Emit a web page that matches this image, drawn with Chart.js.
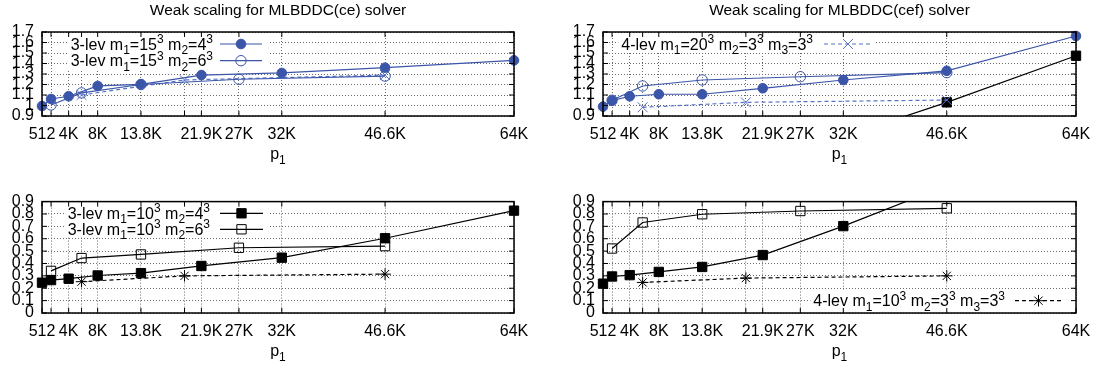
<!DOCTYPE html>
<html>
<head>
<meta charset="utf-8">
<script src="https://cdn.jsdelivr.net/npm/chart.js@4.4.0/dist/chart.umd.min.js"></script>
<style>
body { margin: 0; background: #fff; }
#wrap { position: relative; width: 1096px; height: 368px; }
canvas { position: absolute; }
</style>
</head>
<body>
<div id="wrap">
<canvas id="ceTop" width="548" height="184" style="left:0;top:0"></canvas>
<canvas id="cefTop" width="548" height="184" style="left:548px;top:0"></canvas>
<canvas id="ceBot" width="548" height="184" style="left:0;top:184px"></canvas>
<canvas id="cefBot" width="548" height="184" style="left:548px;top:184px"></canvas>
</div>
<script>
// x axis: number of subdomains p1
var xTicks = [512, 1728, 4096, 5832, 8000, 13824, 19683, 21952, 27000, 32768, 46656, 64000];
var xTickLabels = ['512', '', '4K', '', '8K', '13.8K', '', '21.9K', '27K', '32K', '46.6K', '64K'];

var yTicksTop = [0.9, 1.0, 1.1, 1.2, 1.3, 1.4, 1.5, 1.6, 1.7];
var yLabelsTop = ['0.9', '1', '1.1', '1.2', '1.3', '1.4', '1.5', '1.6', '1.7'];
var yTicksBot = [0, 0.1, 0.2, 0.3, 0.4, 0.5, 0.6, 0.7, 0.8, 0.9];
var yLabelsBot = ['0', '0.1', '0.2', '0.3', '0.4', '0.5', '0.6', '0.7', '0.8', '0.9'];

// p1 values per configuration
var p1_m4 = [512, 1728, 4096, 8000, 13824, 21952, 32768, 46656, 64000];
var p1_m6 = [1728, 5832, 13824, 27000, 46656];
var p1_lev4 = [5832, 19683, 46656];

// MLBDDC(ce)
var ce_15_m4 = [0.995, 1.062, 1.088, 1.186, 1.202, 1.29, 1.31, 1.36, 1.43];
var ce_15_m6 = [1.005, 1.12, 1.20, 1.25, 1.28];
var ce_20_lev4 = [1.10, 1.243, 1.29];
var ce_10_m4 = [0.245, 0.266, 0.277, 0.303, 0.322, 0.38, 0.447, 0.604, 0.827];
var ce_10_m6 = [0.34, 0.444, 0.473, 0.527, 0.54];
var ce_10_lev4 = [0.253, 0.30, 0.314];

// MLBDDC(cef)
var cef_20_m4 = [0.989, 1.046, 1.088, 1.107, 1.107, 1.164, 1.243, 1.33, 1.662];
var cef_20_m6 = [1.05, 1.186, 1.243, 1.274, 1.313];
var cef_20_lev4 = [0.983, 1.03, 1.052];
var cef_10_m4 = [0.237, 0.295, 0.306, 0.332, 0.372, 0.468, 0.702, 1.03, 1.474];
var cef_10_m6 = [0.521, 0.731, 0.798, 0.824, 0.846];
var cef_10_lev4 = [0.247, 0.282, 0.30];

var FONT = '"Liberation Sans", Arial, Helvetica, sans-serif';
var LW = 1.2;
var blue = '#3b55a9', blueLight = '#5873c6';

var S_fc = { color: blue, pointStyle: 'circle', radius: 4.8, fill: true };
var S_oc = { color: blue, pointStyle: 'circle', radius: 5.2, fill: false };
var S_x = { color: blueLight, pointStyle: 'crossRot', radius: 7, fill: false, dash: [4, 3] };
var S_fs = { color: '#000', pointStyle: 'rect', radius: 6.6, fill: true };
var S_os = { color: '#000', pointStyle: 'rect', radius: 6.6, fill: false };
var S_st = { color: '#000', pointStyle: 'star', radius: 5.8, fill: false, dash: [4, 3] };

var CLIP_IN = { left: 8, right: 8, top: 8, bottom: 8 };
var CLIP_EDGE = { left: 8, right: 8, top: 0, bottom: 0 };

function pts(xs, ys) {
  return xs.map(function (x, i) { return { x: x, y: ys[i] }; });
}

function ds(xs, ys, st, clip) {
  var bg = st.fill ? st.color : 'rgba(0,0,0,0)';
  return {
    data: pts(xs, ys),
    borderColor: st.color,
    backgroundColor: bg,
    borderWidth: LW,
    borderDash: st.dash || [],
    pointStyle: st.pointStyle,
    pointRadius: st.radius,
    pointHoverRadius: st.radius,
    pointBorderWidth: 1,
    pointBackgroundColor: bg,
    pointBorderColor: st.color,
    fill: false,
    tension: 0,
    clip: clip || CLIP_IN
  };
}

function setFont(ctx, kind) {
  ctx.font = (kind ? '12px ' : '16px ') + FONT;
}

function richWidth(ctx, segs) {
  var w = 0;
  segs.forEach(function (s) {
    var kind = typeof s === 'string' ? null : (s.sub !== undefined ? 'sub' : 'sup');
    setFont(ctx, kind);
    w += ctx.measureText(typeof s === 'string' ? s : (s.sub || s.sup)).width;
  });
  return w;
}

function drawRich(ctx, segs, x, base) {
  ctx.textAlign = 'left';
  ctx.textBaseline = 'alphabetic';
  segs.forEach(function (s) {
    var txt = s, dy = 0, kind = null;
    if (typeof s !== 'string') {
      if (s.sub !== undefined) { txt = s.sub; dy = 4.5; kind = 'sub'; }
      else { txt = s.sup; dy = -6.5; kind = 'sup'; }
    }
    setFont(ctx, kind);
    ctx.fillText(txt, x, base + dy);
    x += ctx.measureText(txt).width;
  });
}

function drawMarker(ctx, st, x, y) {
  var r = st.radius, d = r * Math.SQRT1_2;
  ctx.strokeStyle = st.color;
  ctx.fillStyle = st.color;
  ctx.lineWidth = 1;
  ctx.setLineDash([]);
  ctx.beginPath();
  if (st.pointStyle === 'circle') {
    ctx.arc(x, y, r, 0, Math.PI * 2);
    if (st.fill) ctx.fill();
  } else if (st.pointStyle === 'rect') {
    ctx.rect(x - d, y - d, 2 * d, 2 * d);
    if (st.fill) ctx.fill();
  } else {
    ctx.moveTo(x - d, y - d); ctx.lineTo(x + d, y + d);
    ctx.moveTo(x - d, y + d); ctx.lineTo(x + d, y - d);
    if (st.pointStyle === 'star') {
      ctx.moveTo(x - r, y); ctx.lineTo(x + r, y);
      ctx.moveTo(x, y - r); ctx.lineTo(x, y + r);
    }
  }
  ctx.stroke();
}

function drawKey(ctx, key) {
  var widths = key.entries.map(function (e) { return richWidth(ctx, e.segs); });
  var left = key.textRight - Math.max.apply(null, widths) - 3;
  ctx.fillStyle = '#fff';
  ctx.fillRect(left, key.top, key.boxRight - left, key.bottom - key.top);
  key.entries.forEach(function (e, i) {
    var y = key.y0 + i * key.dy;
    ctx.fillStyle = '#000';
    drawRich(ctx, e.segs, key.textRight - widths[i], y + 5.5);
    ctx.strokeStyle = e.style.color;
    ctx.lineWidth = LW;
    ctx.setLineDash(e.style.dash || []);
    ctx.beginPath();
    ctx.moveTo(key.s0, y);
    ctx.lineTo(key.s1, y);
    ctx.stroke();
    drawMarker(ctx, e.style, (key.s0 + key.s1) / 2, y);
  });
}

function gnuplotLook(cfg) {
  return {
    id: 'gnuplotLook',
    afterDraw: function (chart) {
      var ctx = chart.ctx, a = chart.chartArea;
      var xs = chart.scales.x, ys = chart.scales.y, t = 5;
      ctx.save();
      if (cfg.key) drawKey(ctx, cfg.key);
      ctx.setLineDash([]);
      ctx.strokeStyle = '#000';
      ctx.lineWidth = 1;
      ctx.beginPath();
      xs.ticks.forEach(function (tk) {
        var px = xs.getPixelForValue(tk.value);
        ctx.moveTo(px, a.bottom); ctx.lineTo(px, a.bottom - t);
        ctx.moveTo(px, a.top); ctx.lineTo(px, a.top + t);
      });
      ys.ticks.forEach(function (tk) {
        var py = ys.getPixelForValue(tk.value);
        ctx.moveTo(a.left, py); ctx.lineTo(a.left + t, py);
        ctx.moveTo(a.right, py); ctx.lineTo(a.right - t, py);
      });
      ctx.stroke();
      ctx.lineWidth = 1.5;
      ctx.strokeRect(a.left, a.top, a.right - a.left, a.bottom - a.top);
      var cx = (a.left + a.right) / 2;
      ctx.fillStyle = '#000';
      if (cfg.title) {
        ctx.font = '15.5px ' + FONT;
        ctx.textAlign = 'center';
        ctx.textBaseline = 'alphabetic';
        ctx.fillText(cfg.title, cx, 14.5);
      }
      var xt = ['p', { sub: '1' }];
      drawRich(ctx, xt, cx - richWidth(ctx, xt) / 2, a.bottom + 43);
      ctx.restore();
    }
  };
}

function makePanel(id, cfg) {
  var yT = cfg.yTicks, yL = cfg.yLabels;
  new Chart(document.getElementById(id), {
    type: 'line',
    data: { datasets: cfg.datasets },
    options: {
      responsive: false,
      animation: false,
      devicePixelRatio: 1,
      events: [],
      layout: { padding: cfg.padding },
      plugins: { legend: { display: false }, tooltip: { enabled: false }, title: { display: false } },
      scales: {
        x: {
          type: 'linear',
          min: 512,
          max: 64000,
          afterBuildTicks: function (s) { s.ticks = xTicks.map(function (v) { return { value: v }; }); },
          afterFit: function (s) { s.height = cfg.xHeight; s.paddingLeft = 0; s.paddingRight = 0; },
          grid: { color: '#6a6a6a', lineWidth: 1, drawTicks: false },
          border: { display: false, dash: [1, 2] },
          ticks: {
            autoSkip: false, maxRotation: 0, minRotation: 0, padding: 9, color: '#000',
            font: { family: FONT, size: 16 },
            callback: function (v) { var i = xTicks.indexOf(v); return i >= 0 ? xTickLabels[i] : ''; }
          }
        },
        y: {
          type: 'linear',
          min: cfg.ymin,
          max: cfg.ymax,
          afterBuildTicks: function (s) { s.ticks = yT.map(function (v) { return { value: v }; }); },
          afterFit: function (s) { s.width = 42; },
          grid: { color: '#6a6a6a', lineWidth: 1, drawTicks: false },
          border: { display: false, dash: [1, 2] },
          ticks: {
            autoSkip: false, padding: 8, color: '#000',
            font: { family: FONT, size: 16 },
            callback: function (v) { var i = yT.indexOf(v); return i >= 0 ? yL[i] : ''; }
          }
        }
      }
    },
    plugins: [gnuplotLook(cfg)]
  });
}

makePanel('ceTop', {
  title: 'Weak scaling for MLBDDC(ce) solver',
  ymin: 0.9, ymax: 1.7, yTicks: yTicksTop, yLabels: yLabelsTop,
  padding: { left: 0, right: 34, top: 32, bottom: 0 }, xHeight: 68,
  datasets: [
    ds(p1_m4, ce_15_m4, S_fc),
    ds(p1_m6, ce_15_m6, S_oc),
    ds(p1_lev4, ce_20_lev4, S_x)
  ],
  key: {
    textRight: 213, s0: 220, s1: 262, y0: 44, dy: 16.7, top: 33, bottom: 69, boxRight: 268,
    entries: [
      { style: S_fc, segs: ['3-lev m', { sub: '1' }, '=15', { sup: '3' }, ' m', { sub: '2' }, '=4', { sup: '3' }] },
      { style: S_oc, segs: ['3-lev m', { sub: '1' }, '=15', { sup: '3' }, ' m', { sub: '2' }, '=6', { sup: '3' }] }
    ]
  }
});

makePanel('cefTop', {
  title: 'Weak scaling for MLBDDC(cef) solver',
  ymin: 0.9, ymax: 1.7, yTicks: yTicksTop, yLabels: yLabelsTop,
  padding: { left: 13, right: 20, top: 32, bottom: 0 }, xHeight: 68,
  datasets: [
    ds(p1_m4, cef_20_m4, S_fc),
    ds(p1_m6, cef_20_m6, S_oc),
    ds(p1_lev4, cef_20_lev4, S_x),
    ds(p1_m4, cef_10_m4, S_fs, CLIP_EDGE)
  ],
  key: {
    textRight: 265, s0: 276, s1: 324, y0: 44, dy: 16.7, top: 33, bottom: 51, boxRight: 328,
    entries: [
      { style: S_x, segs: ['4-lev m', { sub: '1' }, '=20', { sup: '3' }, ' m', { sub: '2' }, '=3', { sup: '3' }, ' m', { sub: '3' }, '=3', { sup: '3' }] }
    ]
  }
});

makePanel('ceBot', {
  ymin: 0, ymax: 0.9, yTicks: yTicksBot, yLabels: yLabelsBot,
  padding: { left: 0, right: 34, top: 16, bottom: 0 }, xHeight: 55,
  datasets: [
    ds(p1_m4, ce_10_m4, S_fs, CLIP_EDGE),
    ds(p1_m6, ce_10_m6, S_os),
    ds(p1_lev4, ce_10_lev4, S_st)
  ],
  key: {
    textRight: 210, s0: 220, s1: 263, y0: 29.3, dy: 16, top: 17, bottom: 52, boxRight: 268,
    entries: [
      { style: S_fs, segs: ['3-lev m', { sub: '1' }, '=10', { sup: '3' }, ' m', { sub: '2' }, '=4', { sup: '3' }] },
      { style: S_os, segs: ['3-lev m', { sub: '1' }, '=10', { sup: '3' }, ' m', { sub: '2' }, '=6', { sup: '3' }] }
    ]
  }
});

makePanel('cefBot', {
  ymin: 0, ymax: 0.9, yTicks: yTicksBot, yLabels: yLabelsBot,
  padding: { left: 13, right: 20, top: 16, bottom: 0 }, xHeight: 55,
  datasets: [
    ds(p1_m4, cef_10_m4, S_fs, CLIP_EDGE),
    ds(p1_m6, cef_10_m6, S_os),
    ds(p1_lev4, cef_10_lev4, S_st)
  ],
  key: {
    textRight: 457, s0: 467, s1: 514, y0: 116.7, dy: 16, top: 107, bottom: 128, boxRight: 527,
    entries: [
      { style: S_st, segs: ['4-lev m', { sub: '1' }, '=10', { sup: '3' }, ' m', { sub: '2' }, '=3', { sup: '3' }, ' m', { sub: '3' }, '=3', { sup: '3' }] }
    ]
  }
});
</script>
</body>
</html>
